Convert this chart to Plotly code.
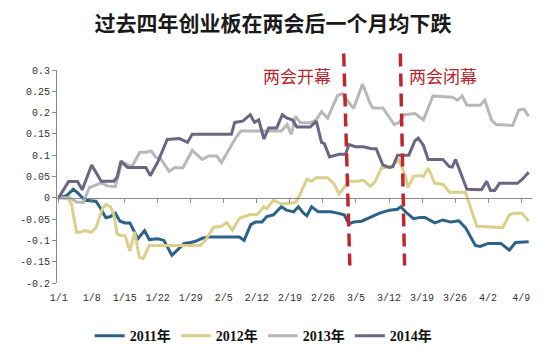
import plotly.graph_objects as go

# x = days since 1/1
tick_days = [0, 7, 14, 21, 28, 35, 42, 49, 56, 63, 70, 77, 84, 91, 98]
tick_labels = ["1/1", "1/8", "1/15", "1/22", "1/29", "2/5", "2/12", "2/19",
               "2/26", "3/5", "3/12", "3/19", "3/26", "4/2", "4/9"]

y_ticks = [0.3, 0.25, 0.2, 0.15, 0.1, 0.05, 0, -0.05, -0.1, -0.15, -0.2]
y_labels = ["0.3", "0.25", "0.2", "0.15", "0.1", "0.05", "0", "-0.05", "-0.1", "-0.15", "-0.2"]

days_2011 = [0, 1.7, 3.1, 4.1, 5.5, 7.9, 8.9, 10, 11, 12, 13, 14.1, 15.1, 16.8, 18.2, 19.2, 21, 22.3,
             24, 25.4, 26.6, 28, 29, 30.4, 31.8, 38.3, 39.3, 40.7, 41.7, 43.1, 44.1, 45.5, 47.2, 48.3,
             49.8, 50.8, 51.9, 52.6, 53.6, 55, 57.7, 59.1, 60.5, 61.5, 62.5, 64.2, 66.3, 68, 70.1,
             71.8, 72.5, 73.6, 75.2, 76.6, 77.6, 79.7, 81.4, 83.1, 84.8, 86.2, 88.3, 89.3, 91, 93.7,
             95.5, 96.8, 99.6]
vals_2011 = [0, 0.005, 0.02, 0.011, -0.006, -0.008, -0.025, -0.047, -0.044, -0.036, -0.055, -0.059,
             -0.059, -0.096, -0.077, -0.098, -0.096, -0.1, -0.135, -0.12, -0.107, -0.105, -0.102,
             -0.095, -0.092, -0.092, -0.1, -0.063, -0.057, -0.057, -0.044, -0.04, -0.021, -0.029,
             -0.033, -0.021, -0.036, -0.042, -0.021, -0.033, -0.033, -0.036, -0.04, -0.061, -0.057,
             -0.055, -0.044, -0.036, -0.029, -0.027, -0.021, -0.034, -0.049, -0.046, -0.046, -0.059,
             -0.052, -0.057, -0.054, -0.07, -0.112, -0.114, -0.107, -0.107, -0.123, -0.105, -0.103]

days_2012 = [0, 2, 2.7, 3.8, 4.5, 5.5, 6.9, 7.9, 9.3, 10, 11, 11.7, 12.4, 13.4, 14.1, 15.1, 16.1, 17.1,
             17.9, 19.2, 30, 31.1, 32.8, 34.5, 35.6, 36.8, 38.3, 40.4, 42.1, 43.5, 44.1, 45.5, 47.2,
             48.5, 50.2, 51.2, 52.6, 53.6, 54.6, 57, 58.4, 59.4, 60.5, 61.5, 63.2, 64.6, 66, 67, 68.4,
             70.4, 72.1, 73.5, 74, 75.2, 76.6, 77.3, 78.3, 79.7, 81.4, 82.8, 86.2, 88.6, 94.1, 95.5,
             96.5, 98.2, 99.6]
vals_2012 = [0, -0.002, -0.014, -0.081, -0.081, -0.077, -0.081, -0.07, -0.025, -0.016, -0.021, -0.04,
             -0.085, -0.089, -0.089, -0.125, -0.08, -0.14, -0.143, -0.112, -0.112, -0.1, -0.069,
             -0.067, -0.058, -0.076, -0.048, -0.04, -0.039, -0.021, -0.025, -0.006, -0.014, -0.014,
             -0.011, 0.009, 0.043, 0.039, 0.047, 0.047, 0.032, 0.009, 0.024, 0.039, 0.039, 0.041,
             0.027, 0.037, 0.07, 0.073, 0.089, 0.051, 0.024, 0.051, 0.052, 0.05, 0.07, 0.034, 0.032,
             0.013, 0.013, -0.067, -0.07, -0.04, -0.036, -0.036, -0.055]

days_2013 = [0, 2.4, 3.8, 5.2, 6.5, 7.6, 9, 10.3, 12, 13.4, 15.5, 17.2, 18.5, 19.6, 20.6, 21.6, 23.4,
             24.6, 26.3, 28.3, 30.4, 31.8, 33.5, 34.5, 36.2, 37.6, 38.6, 47.2, 48.4, 49.3, 50.2, 51.2,
             53.3, 54.6, 55.7, 57, 59.1, 60.1, 61.1, 62.5, 64.4, 66, 66.6, 68.7, 71.1, 72.1, 73.2,
             75.5, 77.3, 79.3, 83.4, 84.5, 85.5, 86.5, 89.3, 90.3, 91.7, 92.7, 96.2, 97.5, 98.6, 99.6]
vals_2013 = [0, 0, -0.01, -0.011, 0.024, 0.029, 0.035, 0.028, 0.026, 0.084, 0.073, 0.107, 0.107, 0.11,
             0.095, 0.092, 0.062, 0.071, 0.07, 0.111, 0.09, 0.098, 0.098, 0.083, 0.115, 0.142, 0.157,
             0.157, 0.172, 0.149, 0.191, 0.176, 0.176, 0.183, 0.202, 0.187, 0.24, 0.244, 0.229, 0.21,
             0.267, 0.221, 0.211, 0.211, 0.172, 0.176, 0.195, 0.198, 0.183, 0.239, 0.236, 0.229,
             0.239, 0.217, 0.217, 0.229, 0.183, 0.172, 0.17, 0.206, 0.208, 0.191]

days_2014 = [0, 2.1, 4, 5, 7, 8.6, 9, 11.7, 12.4, 13.2, 14.6, 18.5, 19.4, 21, 23, 25.6, 27.3, 28.3,
             36.6, 37.3, 39, 40.6, 41.5, 42.4, 43.5, 44.5, 46.2, 47.4, 48.4, 49.5, 50.5, 53.3, 54.6,
             55.7, 56.3, 57.4, 59.4, 60.8, 61.5, 62.9, 64.6, 66.3, 67.3, 68.7, 70.1, 70.8, 71.8, 74.2,
             75.5, 76.2, 77.3, 78.3, 81.4, 82.8, 83.4, 84.1, 86.5, 89.6, 90.7, 91.5, 92.4, 93.4, 97.2,
             98.2, 99.6]
vals_2014 = [0, 0.038, 0.038, 0.019, 0.077, 0.049, 0.039, 0.039, 0.049, 0.086, 0.071, 0.071, 0.052,
             0.084, 0.137, 0.139, 0.13, 0.149, 0.149, 0.177, 0.18, 0.195, 0.177, 0.183, 0.138, 0.164,
             0.164, 0.195, 0.187, 0.183, 0.166, 0.166, 0.18, 0.13, 0.127, 0.096, 0.102, 0.102, 0.125,
             0.12, 0.12, 0.115, 0.115, 0.077, 0.071, 0.073, 0.1, 0.1, 0.134, 0.14, 0.123, 0.09, 0.09,
             0.073, 0.072, 0.09, 0.02, 0.019, 0.039, 0.017, 0.017, 0.034, 0.034, 0.043, 0.06]

series = [
    ("2011年", days_2011, vals_2011, "#2C6287"),
    ("2012年", days_2012, vals_2012, "#DAD08A"),
    ("2013年", days_2013, vals_2013, "#B8B8B8"),
    ("2014年", days_2014, vals_2014, "#6C6584"),
]

event_days = [(60.4, 61.7), (72.4, 73.3)]
event_labels = ["两会开幕", "两会闭幕"]

fig = go.Figure()
for name, d, v, c in series:
    fig.add_trace(go.Scatter(x=d, y=v, mode="lines", name=name,
                             line=dict(color=c, width=3)))

# invisible helper trace for the zero-position x axis
fig.add_trace(go.Scatter(x=[0, 98], y=[0, 0], xaxis="x2", mode="lines",
                         line=dict(width=0), showlegend=False, hoverinfo="skip"))

tick_font = dict(family="Liberation Mono, monospace", size=10, color="#333333")

# page body has an 8px default margin, so the figure is 8px smaller than the window
W, H = 545, 356

fig.update_layout(
    width=W, height=H,
    margin=dict(l=37, r=21, t=62, b=74),
    paper_bgcolor="white", plot_bgcolor="white",
    title=dict(text="过去四年创业板在两会后一个月均下跌",
               font=dict(family="Noto Sans CJK SC", size=21, color="#1a1a1a", weight="bold"),
               x=265 / W, xanchor="center", xref="container",
               y=1 - 16 / H, yanchor="middle", yref="container"),
    xaxis=dict(range=[-0.35, 100.3], tickvals=tick_days, ticktext=tick_labels,
               showgrid=False, zeroline=False, showline=False, ticks="outside",
               ticklen=5, tickcolor="rgba(0,0,0,0)",
               tickfont=tick_font),
    xaxis2=dict(range=[-0.35, 100.3], overlaying="x", anchor="free", position=0.4,
                tickvals=tick_days, showticklabels=False, showgrid=False, zeroline=False,
                showline=True, linecolor="#8a8a8a", linewidth=1,
                ticks="outside", ticklen=4, tickcolor="#8a8a8a"),
    yaxis=dict(range=[-0.2, 0.3], tickvals=y_ticks, ticktext=y_labels,
               showgrid=False, zeroline=False, showline=True, linecolor="#8a8a8a",
               linewidth=1, ticks="outside", ticklen=4, tickcolor="#8a8a8a",
               tickfont=tick_font),
    legend=dict(orientation="h", x=0.435, xanchor="center", y=-0.25, yanchor="middle",
                font=dict(family="Liberation Serif, Noto Sans CJK SC", size=14,
                          color="#111111", weight="bold"),
                itemwidth=30, bgcolor="rgba(0,0,0,0)"),
    showlegend=True,
)

for (x0, x1) in event_days:
    fig.add_shape(type="line", xref="x", yref="paper", x0=x0, x1=x1,
                  y0=(290 - 53) / 220, y1=(290 - 272) / 220,
                  line=dict(color="#C0272D", width=3.5, dash="13px,7px"))

label_y = (290 - 60.7) / 220
fig.add_annotation(text=event_labels[0], xref="x", yref="paper",
                   x=event_days[0][0] - 2.2, xanchor="right", y=label_y, showarrow=False,
                   font=dict(family="Noto Sans CJK SC", size=17, color="#B5262E"))
fig.add_annotation(text=event_labels[1], xref="x", yref="paper",
                   x=event_days[1][1] + 0.5, xanchor="left", y=label_y, showarrow=False,
                   font=dict(family="Noto Sans CJK SC", size=17, color="#B5262E"))

fig.write_html("out.html")
